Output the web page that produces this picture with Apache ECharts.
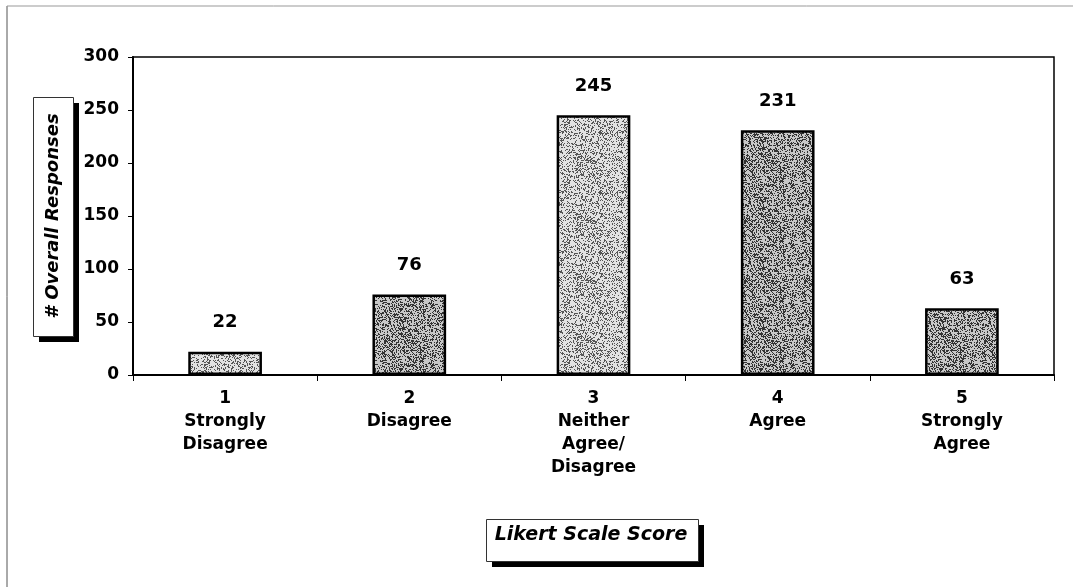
<!DOCTYPE html>
<html><head><meta charset="utf-8">
<script src="https://cdn.jsdelivr.net/npm/echarts@6/dist/echarts.min.js"></script>
<style>html,body{margin:0;padding:0;background:#fff}#c{width:1073px;height:587px}</style>
</head><body><div id="c"></div>
<script>
const categories = ['1\nStrongly\nDisagree', '2\nDisagree', '3\nNeither\nAgree/\nDisagree', '4\nAgree', '5\nStrongly\nAgree'];
const responses = [22, 76, 245, 231, 63];
const yTicks = [0, 50, 100, 150, 200, 250, 300];
const yAxisTitle = '# Overall Responses';
const xAxisTitle = 'Likert Scale Score';

// speckle texture (style only)
function makePattern(base, dark, density, seed) {
  const cv = document.createElement('canvas');
  cv.width = 60; cv.height = 60;
  const ctx = cv.getContext('2d');
  ctx.fillStyle = base; ctx.fillRect(0, 0, 60, 60);
  let s = seed;
  const rnd = () => { s = (s * 16807) % 2147483647; return s / 2147483647; };
  ctx.fillStyle = dark;
  for (let i = 0; i < 3600 * density; i++) {
    ctx.fillRect(Math.floor(rnd() * 60), Math.floor(rnd() * 60), 1, 1);
  }
  return { image: cv, repeat: 'repeat' };
}
const light = makePattern('#e2e2e2', '#555', 0.35, 7);
const dark = makePattern('#c8c8c8', '#333', 0.5, 13);
const fills = [light, dark, light, dark, dark];
const FONT = 'DejaVu Sans';

const chart = echarts.init(document.getElementById('c'));
chart.setOption({
  animation: false,
  backgroundColor: '#fff',
  grid: { left: 133, right: 19, top: 57, bottom: 212, show: true, borderColor: '#000', borderWidth: 1.5 },
  xAxis: {
    type: 'category', data: categories,
    axisLine: { lineStyle: { color: '#000', width: 2 } },
    axisTick: { show: true, length: 6, lineStyle: { color: '#000' } },
    axisLabel: { color: '#000', fontFamily: FONT, fontWeight: 'bold', fontSize: 17, lineHeight: 23, margin: 12, interval: 0 }
  },
  yAxis: {
    type: 'value', min: yTicks[0], max: yTicks[yTicks.length - 1], interval: 50,
    splitLine: { show: false },
    axisLine: { show: true, lineStyle: { color: '#000', width: 2 } },
    axisTick: { show: true, length: 5, lineStyle: { color: '#000' } },
    axisLabel: { color: '#000', fontFamily: FONT, fontWeight: 'bold', fontSize: 17, margin: 14 }
  },
  series: [{
    type: 'bar', barWidth: '40%',
    data: responses.map((v, i) => ({ value: v, itemStyle: { color: fills[i] } })),
    itemStyle: { borderColor: '#000', borderWidth: 2.5 },
    label: { show: true, position: 'top', distance: 20, color: '#000', fontFamily: FONT, fontWeight: 'bold', fontSize: 18 }
  }],
  graphic: [
    { type: 'line', shape: { x1: 7, y1: 6, x2: 7, y2: 587 }, style: { stroke: '#555', lineWidth: 1 } },
    { type: 'line', shape: { x1: 7, y1: 6, x2: 1073, y2: 6 }, style: { stroke: '#999', lineWidth: 1 } },
    { type: 'rect', shape: { x: 39, y: 103, width: 40, height: 239 }, style: { fill: '#000' } },
    { type: 'rect', shape: { x: 33.5, y: 97.5, width: 40, height: 239 }, style: { fill: '#fff', stroke: '#333', lineWidth: 1 } },
    { type: 'text', x: 53.5, y: 216, rotation: Math.PI / 2,
      style: { text: yAxisTitle, fill: '#000', font: 'italic bold 18px "DejaVu Sans"', align: 'center', verticalAlign: 'middle' } },
    { type: 'rect', shape: { x: 492, y: 525, width: 212, height: 42 }, style: { fill: '#000' } },
    { type: 'rect', shape: { x: 486.5, y: 519.5, width: 212, height: 42 }, style: { fill: '#fff', stroke: '#333', lineWidth: 1 } },
    { type: 'text', x: 591, y: 535,
      style: { text: xAxisTitle, fill: '#000', font: 'italic bold 19px "DejaVu Sans"', align: 'center', verticalAlign: 'middle' } }
  ]
});
</script></body></html>
